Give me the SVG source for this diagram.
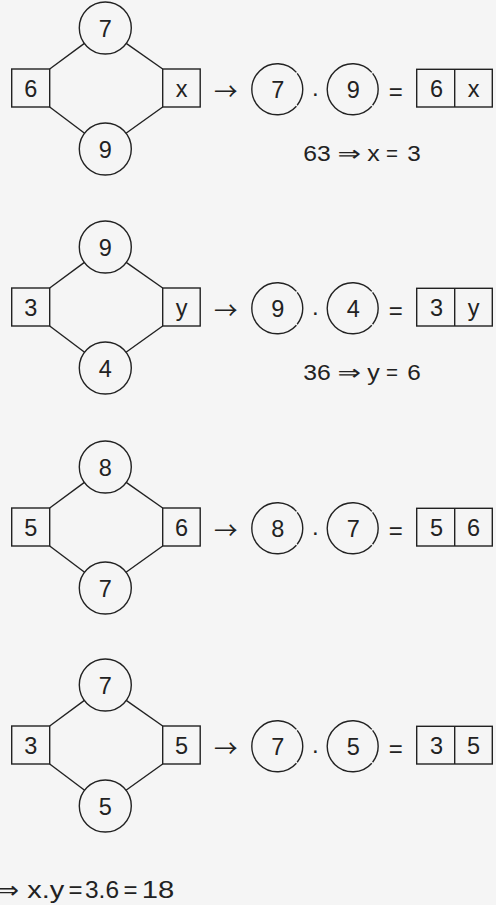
<svg xmlns="http://www.w3.org/2000/svg" width="496" height="905" viewBox="0 0 496 905">
<style>
.s{fill:none;stroke:#222;stroke-width:1.4}
.l{stroke:#222;stroke-width:1.4}
.d{font-family:"Liberation Sans",Arial,sans-serif;font-size:23.5px;fill:#222;text-anchor:middle}
.t{font-family:"Liberation Sans",Arial,sans-serif;font-size:21.5px;fill:#222}
.b{font-family:"Liberation Sans",Arial,sans-serif;font-size:23px;fill:#222}
.ar{font-family:"DejaVu Sans",sans-serif}
.ra{font-family:"Noto Sans CJK SC","DejaVu Sans",sans-serif;font-size:24px;fill:#222}
.op{font-family:"Liberation Sans",Arial,sans-serif;font-size:24px;fill:#222;text-anchor:middle}
</style>
<defs>
<path id="pc" class="s" d="M19.9,-15.9 A25.5,25.5 0 0 1 19.9,15.9 M19.1,16.9 A25.5,25.5 0 1 1 19.1,-16.9"/>
</defs>
<rect width="496" height="905" fill="#f5f5f5"/>

<g id="row1" transform="translate(0,88)">
<g id="connectors1">
<line class="l" x1="49.7" y1="-19" x2="84.4" y2="-44.6"/>
<line class="l" x1="162.7" y1="-19" x2="126.2" y2="-44.6"/>
<line class="l" x1="49.7" y1="19" x2="84.6" y2="45.3"/>
<line class="l" x1="162.7" y1="19" x2="126" y2="45.3"/>
</g>
<g id="r1-top"><circle class="s" cx="105.3" cy="-60" r="26"/><text class="d" x="105.3" y="-50.7">7</text></g>
<g id="r1-bottom"><circle class="s" cx="105.3" cy="61" r="26"/><text class="d" x="105.3" y="70.3">9</text></g>
<g id="r1-left"><rect class="s" x="11.7" y="-19" width="38" height="38"/><text class="d" x="30.7" y="9.2">6</text></g>
<g id="r1-right"><rect class="s" x="162.7" y="-19" width="37.5" height="38"/><text class="d" x="181.5" y="9.2">x</text></g>
<g id="r1-eq">
<text class="ra" x="214" y="11.5" textLength="23.5" lengthAdjust="spacingAndGlyphs">→</text>
<use href="#pc" x="277.3" y="1.3"/><text class="d" x="277.8" y="10.3">7</text>
<text class="op" x="315.3" y="7.7">.</text>
<use href="#pc" x="352.7" y="1.3"/><text class="d" x="353.2" y="10.3">9</text>
<text class="op" x="395.8" y="12">=</text>
<rect class="s" x="416.7" y="-18.7" width="75.6" height="37.7"/><line class="l" x1="454.7" y1="-18.7" x2="454.7" y2="19"/>
<text class="d" x="436.5" y="9.4">6</text><text class="d" x="473.6" y="9.4">x</text>
</g>
<g id="r1-result"><text class="t" y="73"><tspan x="303.3" textLength="27.5" lengthAdjust="spacingAndGlyphs">63</tspan><tspan class="ar" x="337.5" textLength="23.5" lengthAdjust="spacingAndGlyphs">⇒</tspan><tspan x="367.3" textLength="12.5" lengthAdjust="spacingAndGlyphs">x</tspan><tspan x="386" textLength="12" lengthAdjust="spacingAndGlyphs">=</tspan><tspan x="407.2" textLength="13.5" lengthAdjust="spacingAndGlyphs">3</tspan></text></g>
</g>

<g id="row2" transform="translate(0,307)">
<g id="connectors2">
<line class="l" x1="49.7" y1="-19" x2="84.4" y2="-44.6"/>
<line class="l" x1="162.7" y1="-19" x2="126.2" y2="-44.6"/>
<line class="l" x1="49.7" y1="19" x2="84.6" y2="45.3"/>
<line class="l" x1="162.7" y1="19" x2="126" y2="45.3"/>
</g>
<g id="r2-top"><circle class="s" cx="105.3" cy="-60" r="26"/><text class="d" x="105.3" y="-50.7">9</text></g>
<g id="r2-bottom"><circle class="s" cx="105.3" cy="61" r="26"/><text class="d" x="105.3" y="70.3">4</text></g>
<g id="r2-left"><rect class="s" x="11.7" y="-19" width="38" height="38"/><text class="d" x="30.7" y="9.2">3</text></g>
<g id="r2-right"><rect class="s" x="162.7" y="-19" width="37.5" height="38"/><text class="d" x="181.5" y="9.2">y</text></g>
<g id="r2-eq">
<text class="ra" x="214" y="11.5" textLength="23.5" lengthAdjust="spacingAndGlyphs">→</text>
<use href="#pc" x="277.3" y="1.3"/><text class="d" x="277.8" y="10.3">9</text>
<text class="op" x="315.3" y="7.7">.</text>
<use href="#pc" x="352.7" y="1.3"/><text class="d" x="353.2" y="10.3">4</text>
<text class="op" x="395.8" y="12">=</text>
<rect class="s" x="416.7" y="-18.7" width="75.6" height="37.7"/><line class="l" x1="454.7" y1="-18.7" x2="454.7" y2="19"/>
<text class="d" x="436.5" y="9.4">3</text><text class="d" x="473.6" y="9.4">y</text>
</g>
<g id="r2-result"><text class="t" y="73"><tspan x="303.3" textLength="27.5" lengthAdjust="spacingAndGlyphs">36</tspan><tspan class="ar" x="337.5" textLength="23.5" lengthAdjust="spacingAndGlyphs">⇒</tspan><tspan x="367.3" textLength="12.5" lengthAdjust="spacingAndGlyphs">y</tspan><tspan x="386" textLength="12" lengthAdjust="spacingAndGlyphs">=</tspan><tspan x="407.2" textLength="13.5" lengthAdjust="spacingAndGlyphs">6</tspan></text></g>
</g>

<g id="row3" transform="translate(0,527)">
<g id="connectors3">
<line class="l" x1="49.7" y1="-19" x2="84.4" y2="-44.6"/>
<line class="l" x1="162.7" y1="-19" x2="126.2" y2="-44.6"/>
<line class="l" x1="49.7" y1="19" x2="84.6" y2="45.3"/>
<line class="l" x1="162.7" y1="19" x2="126" y2="45.3"/>
</g>
<g id="r3-top"><circle class="s" cx="105.3" cy="-60" r="26"/><text class="d" x="105.3" y="-50.7">8</text></g>
<g id="r3-bottom"><circle class="s" cx="105.3" cy="61" r="26"/><text class="d" x="105.3" y="70.3">7</text></g>
<g id="r3-left"><rect class="s" x="11.7" y="-19" width="38" height="38"/><text class="d" x="30.7" y="9.2">5</text></g>
<g id="r3-right"><rect class="s" x="162.7" y="-19" width="37.5" height="38"/><text class="d" x="181.5" y="9.2">6</text></g>
<g id="r3-eq">
<text class="ra" x="214" y="11.5" textLength="23.5" lengthAdjust="spacingAndGlyphs">→</text>
<use href="#pc" x="277.3" y="1.3"/><text class="d" x="277.8" y="10.3">8</text>
<text class="op" x="315.3" y="7.7">.</text>
<use href="#pc" x="352.7" y="1.3"/><text class="d" x="353.2" y="10.3">7</text>
<text class="op" x="395.8" y="12">=</text>
<rect class="s" x="416.7" y="-18.7" width="75.6" height="37.7"/><line class="l" x1="454.7" y1="-18.7" x2="454.7" y2="19"/>
<text class="d" x="436.5" y="9.4">5</text><text class="d" x="473.6" y="9.4">6</text>
</g>
</g>

<g id="row4" transform="translate(0,745)">
<g id="connectors4">
<line class="l" x1="49.7" y1="-19" x2="84.4" y2="-44.6"/>
<line class="l" x1="162.7" y1="-19" x2="126.2" y2="-44.6"/>
<line class="l" x1="49.7" y1="19" x2="84.6" y2="45.3"/>
<line class="l" x1="162.7" y1="19" x2="126" y2="45.3"/>
</g>
<g id="r4-top"><circle class="s" cx="105.3" cy="-60" r="26"/><text class="d" x="105.3" y="-50.7">7</text></g>
<g id="r4-bottom"><circle class="s" cx="105.3" cy="61" r="26"/><text class="d" x="105.3" y="70.3">5</text></g>
<g id="r4-left"><rect class="s" x="11.7" y="-19" width="38" height="38"/><text class="d" x="30.7" y="9.2">3</text></g>
<g id="r4-right"><rect class="s" x="162.7" y="-19" width="37.5" height="38"/><text class="d" x="181.5" y="9.2">5</text></g>
<g id="r4-eq">
<text class="ra" x="214" y="11.5" textLength="23.5" lengthAdjust="spacingAndGlyphs">→</text>
<use href="#pc" x="277.3" y="1.3"/><text class="d" x="277.8" y="10.3">7</text>
<text class="op" x="315.3" y="7.7">.</text>
<use href="#pc" x="352.7" y="1.3"/><text class="d" x="353.2" y="10.3">5</text>
<text class="op" x="395.8" y="12">=</text>
<rect class="s" x="416.7" y="-18.7" width="75.6" height="37.7"/><line class="l" x1="454.7" y1="-18.7" x2="454.7" y2="19"/>
<text class="d" x="436.5" y="9.4">3</text><text class="d" x="473.6" y="9.4">5</text>
</g>
</g>

<g id="conclusion"><text class="b" y="898"><tspan class="ar" x="-3" textLength="22" lengthAdjust="spacingAndGlyphs">⇒</tspan><tspan x="27.3" textLength="37" lengthAdjust="spacingAndGlyphs">x.y</tspan><tspan x="68.5" textLength="14" lengthAdjust="spacingAndGlyphs">=</tspan><tspan x="85" textLength="34" lengthAdjust="spacingAndGlyphs">3.6</tspan><tspan x="123.5" textLength="14" lengthAdjust="spacingAndGlyphs">=</tspan><tspan x="141.7" textLength="32.5" lengthAdjust="spacingAndGlyphs">18</tspan></text></g>
</svg>
